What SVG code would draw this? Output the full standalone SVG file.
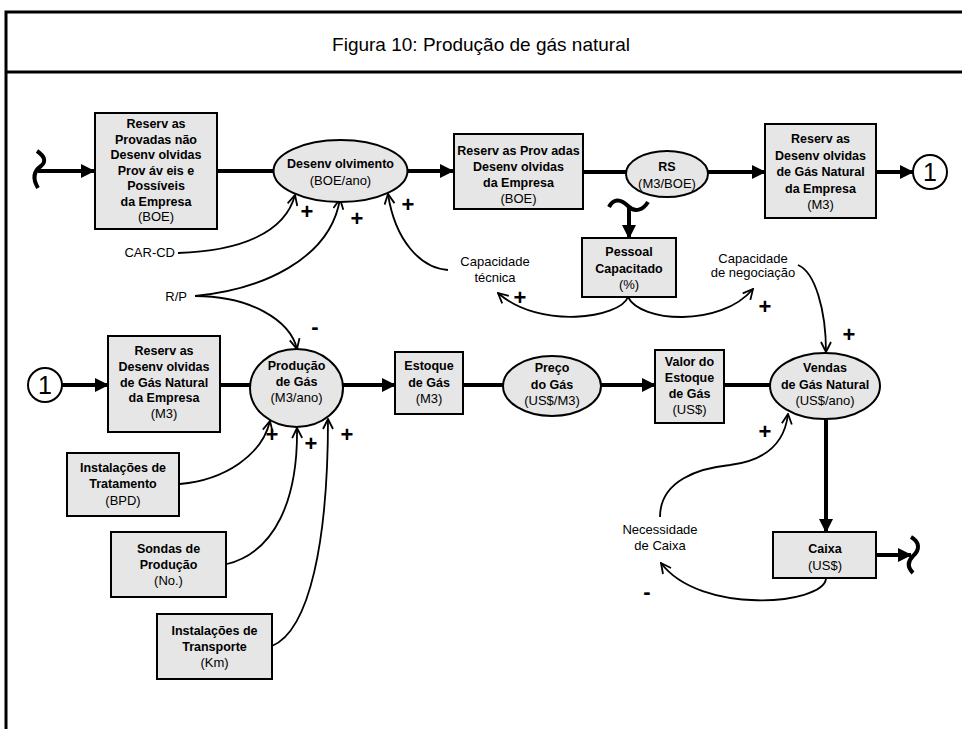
<svg xmlns="http://www.w3.org/2000/svg" width="962" height="729" viewBox="0 0 962 729">
  <style>
    .frame { stroke: #000; stroke-width: 3; fill: none; }
    .box { fill: #e6e6e6; stroke: #000; stroke-width: 2; }
    .node { fill: #e6e6e6; stroke: #000; stroke-width: 2; }
    .ref { fill: #fff; stroke: #000; stroke-width: 2; }
    .b { font-family: "Liberation Sans", Arial, sans-serif; font-weight: bold; font-size: 12.5px; text-anchor: middle; fill: #000; }
    .r { font-family: "Liberation Sans", Arial, sans-serif; font-size: 13px; text-anchor: middle; fill: #000; }
    .lbl { font-family: "Liberation Sans", Arial, sans-serif; font-size: 13px; fill: #000; }
    .sign { font-family: "Liberation Sans", Arial, sans-serif; font-weight: bold; font-size: 22px; text-anchor: middle; fill: #000; }
    .flow { stroke: #000; stroke-width: 4; fill: none; }
    .link { stroke: #000; stroke-width: 1.8; fill: none; }
    .title { font-family: "Liberation Sans", Arial, sans-serif; font-size: 19px; text-anchor: middle; fill: #000; }
  </style>
  <defs>
    <marker id="flowhead" markerUnits="userSpaceOnUse" viewBox="0 0 14 14" refX="13" refY="7" markerWidth="14" markerHeight="14" orient="auto">
      <path d="M0,0 L14,7 L0,14 z" fill="#000"/>
    </marker>
    <marker id="linkhead" markerUnits="userSpaceOnUse" viewBox="0 0 12 12" refX="11" refY="6" markerWidth="12" markerHeight="12" orient="auto">
      <path d="M1,1 L11,6 L1,11" fill="none" stroke="#000" stroke-width="1.8"/>
    </marker>
  </defs>

  <rect width="962" height="729" fill="#fff"/>

  <!-- page frame and caption band -->
  <g id="frame">
    <path class="frame" d="M6,729 L6,12 L962,12 M6,72 L962,72"/>
    <text class="title" x="481" y="51">Figura 10: Produção de gás natural</text>
  </g>

  <!-- connectors -->
  <g id="connectors">
    <!-- flows, top row -->
    <path class="flow" d="M37,151 C44,156 47,161 41,166 C34,171 32,178 38,188" stroke-width="3.5"/>
    <path class="flow" d="M38,171 L94,171" marker-end="url(#flowhead)"/>
    <path class="flow" d="M217,171 L274,171"/>
    <path class="flow" d="M407,171 L453,171" marker-end="url(#flowhead)"/>
    <path class="flow" d="M583,172 L626,172"/>
    <path class="flow" d="M708,172 L765,172" marker-end="url(#flowhead)"/>
    <path class="flow" d="M876,172 L913,172" marker-end="url(#flowhead)"/>
    <path class="flow" d="M609,207 C613,199 620,198 628,206 C635,213 643,210 648,202" stroke-width="3.5"/>
    <path class="flow" d="M629,207 L629,238" marker-end="url(#flowhead)"/>

    <!-- flows, second row -->
    <path class="flow" d="M62,385 L108,385" marker-end="url(#flowhead)"/>
    <path class="flow" d="M220,385 L250,385"/>
    <path class="flow" d="M343,385 L395,385" marker-end="url(#flowhead)"/>
    <path class="flow" d="M463,385 L503,385"/>
    <path class="flow" d="M600,385 L655,385" marker-end="url(#flowhead)"/>
    <path class="flow" d="M724,385 L770,385"/>
    <path class="flow" d="M826,420 L826,532" marker-end="url(#flowhead)"/>
    <path class="flow" d="M876,555 L911,555" marker-end="url(#flowhead)"/>
    <path class="flow" d="M911,537 C920,542 920,550 913,556 C907,562 908,568 913,573" stroke-width="3.5"/>

    <!-- influences on Desenvolvimento -->
    <path class="link" d="M178,253 C240,251 285,233 295,195" marker-end="url(#linkhead)"/>
    <path class="link" d="M195,296 C260,290 330,260 340,199" marker-end="url(#linkhead)"/>
    <path class="link" d="M448,270 C420,268 395,240 388,194" marker-end="url(#linkhead)"/>

    <!-- influences on Produção de Gás -->
    <path class="link" d="M195,296 C250,296 290,320 297,349" marker-end="url(#linkhead)"/>
    <path class="link" d="M180,484 C225,480 262,455 270,421" marker-end="url(#linkhead)"/>
    <path class="link" d="M227,564 C275,552 298,500 297,428" marker-end="url(#linkhead)"/>
    <path class="link" d="M272,646 C310,630 328,540 328,419" marker-end="url(#linkhead)"/>

    <!-- Pessoal Capacitado outputs -->
    <path class="link" d="M628,297 C620,318 540,330 498,293" marker-end="url(#linkhead)"/>
    <path class="link" d="M628,297 C640,322 720,328 753,289" marker-end="url(#linkhead)"/>

    <!-- influences on Vendas and Caixa loop -->
    <path class="link" d="M798,265 C815,272 826,310 826,352" marker-end="url(#linkhead)"/>
    <path class="link" d="M660,517 C660,480 700,468 730,465 C770,460 785,440 788,414" marker-end="url(#linkhead)"/>
    <path class="link" d="M826,579 C822,605 700,615 661,563" marker-end="url(#linkhead)"/>

    <!-- polarity signs -->
    <text class="sign" x="307" y="219">+</text>
    <text class="sign" x="357" y="226">+</text>
    <text class="sign" x="408" y="212">+</text>
    <text class="sign" x="520" y="305">+</text>
    <text class="sign" x="765" y="314">+</text>
    <text class="sign" x="849" y="342">+</text>
    <text class="sign" x="765" y="439">+</text>
    <text class="sign" x="272" y="442">+</text>
    <text class="sign" x="311" y="451">+</text>
    <text class="sign" x="347" y="442">+</text>
    <text class="sign" x="315" y="334">-</text>
    <text class="sign" x="647" y="599">-</text>

    <!-- auxiliary variable labels -->
    <text class="lbl" x="175" y="257" text-anchor="end">CAR-CD</text>
    <text class="lbl" x="187" y="301" text-anchor="end">R/P</text>
    <text class="r" x="495" y="266">Capacidade</text>
    <text class="r" x="495" y="282">técnica</text>
    <text class="r" x="753" y="263">Capacidade</text>
    <text class="r" x="753" y="277">de negociação</text>
    <text class="r" x="660" y="534">Necessidade</text>
    <text class="r" x="660" y="550">de Caixa</text>
  </g>

  <!-- stocks and rates -->
  <g id="reservas-provadas-nao-desenvolvidas">
    <rect class="box" x="95" y="113" width="122" height="116"/>
    <text class="b" x="156" y="128">Reserv as</text>
    <text class="b" x="156" y="143.5">Provadas não</text>
    <text class="b" x="156" y="159">Desenv olvidas</text>
    <text class="b" x="156" y="174.5">Prov áv eis e</text>
    <text class="b" x="156" y="190">Possíveis</text>
    <text class="b" x="156" y="205.5">da Empresa</text>
    <text class="r" x="156" y="221">(BOE)</text>
  </g>

  <g id="desenvolvimento">
    <ellipse class="node" cx="340.5" cy="171" rx="67" ry="31"/>
    <text class="b" x="340.5" y="168">Desenv olvimento</text>
    <text class="r" x="340.5" y="185">(BOE/ano)</text>
  </g>

  <g id="reservas-provadas-desenvolvidas">
    <rect class="box" x="454" y="134" width="129" height="75"/>
    <text class="b" x="518.5" y="155">Reserv as Prov adas</text>
    <text class="b" x="518.5" y="171">Desenv olvidas</text>
    <text class="b" x="518.5" y="187">da Empresa</text>
    <text class="r" x="518.5" y="203">(BOE)</text>
  </g>

  <g id="rs">
    <ellipse class="node" cx="667" cy="174" rx="41" ry="23"/>
    <text class="b" x="667" y="171">RS</text>
    <text class="r" x="667" y="188">(M3/BOE)</text>
  </g>

  <g id="reservas-desenvolvidas-topo">
    <rect class="box" x="765" y="124" width="111" height="94"/>
    <text class="b" x="820.5" y="143">Reserv as</text>
    <text class="b" x="820.5" y="159.5">Desenv olvidas</text>
    <text class="b" x="820.5" y="176">de Gás Natural</text>
    <text class="b" x="820.5" y="192.5">da Empresa</text>
    <text class="r" x="820.5" y="209">(M3)</text>
  </g>

  <g id="conector-1-saida">
    <circle class="ref" cx="930" cy="172" r="17"/>
    <text x="930" y="181" font-family="Liberation Sans, Arial, sans-serif" font-size="25" text-anchor="middle">1</text>
  </g>

  <g id="pessoal-capacitado">
    <rect class="box" x="582" y="238" width="94" height="59"/>
    <text class="b" x="629" y="256">Pessoal</text>
    <text class="b" x="629" y="273">Capacitado</text>
    <text class="r" x="629" y="289">(%)</text>
  </g>

  <g id="conector-1-entrada">
    <circle class="ref" cx="45" cy="385" r="17"/>
    <text x="45" y="394" font-family="Liberation Sans, Arial, sans-serif" font-size="25" text-anchor="middle">1</text>
  </g>

  <g id="reservas-desenvolvidas">
    <rect class="box" x="108" y="336" width="112" height="96"/>
    <text class="b" x="164" y="355">Reserv as</text>
    <text class="b" x="164" y="371">Desenv olvidas</text>
    <text class="b" x="164" y="387">de Gás Natural</text>
    <text class="b" x="164" y="402">da Empresa</text>
    <text class="r" x="164" y="418">(M3)</text>
  </g>

  <g id="producao-de-gas">
    <ellipse class="node" cx="296.5" cy="388" rx="46.5" ry="39"/>
    <text class="b" x="296.5" y="370">Produção</text>
    <text class="b" x="296.5" y="386">de Gás</text>
    <text class="r" x="296.5" y="402">(M3/ano)</text>
  </g>

  <g id="estoque-de-gas">
    <rect class="box" x="395" y="352" width="68" height="62"/>
    <text class="b" x="429" y="370">Estoque</text>
    <text class="b" x="429" y="387">de Gás</text>
    <text class="r" x="429" y="403">(M3)</text>
  </g>

  <g id="preco-do-gas">
    <ellipse class="node" cx="552" cy="386" rx="49" ry="30"/>
    <text class="b" x="552" y="372">Preço</text>
    <text class="b" x="552" y="389">do Gás</text>
    <text class="r" x="552" y="405">(US$/M3)</text>
  </g>

  <g id="valor-do-estoque">
    <rect class="box" x="655" y="350" width="69" height="73"/>
    <text class="b" x="689.5" y="366">Valor do</text>
    <text class="b" x="689.5" y="382">Estoque</text>
    <text class="b" x="689.5" y="398">de Gás</text>
    <text class="r" x="689.5" y="414">(US$)</text>
  </g>

  <g id="vendas-de-gas-natural">
    <ellipse class="node" cx="825" cy="386" rx="55" ry="33"/>
    <text class="b" x="825" y="372">Vendas</text>
    <text class="b" x="825" y="389">de Gás Natural</text>
    <text class="r" x="825" y="405">(US$/ano)</text>
  </g>

  <g id="caixa">
    <rect class="box" x="773" y="532" width="103" height="46"/>
    <text class="b" x="825" y="553">Caixa</text>
    <text class="r" x="825" y="570">(US$)</text>
  </g>

  <g id="instalacoes-de-tratamento">
    <rect class="box" x="67" y="453" width="112" height="63"/>
    <text class="b" x="123" y="472">Instalações de</text>
    <text class="b" x="123" y="488">Tratamento</text>
    <text class="r" x="123" y="505">(BPD)</text>
  </g>

  <g id="sondas-de-producao">
    <rect class="box" x="111" y="532" width="115" height="65"/>
    <text class="b" x="168.5" y="553">Sondas de</text>
    <text class="b" x="168.5" y="569">Produção</text>
    <text class="r" x="168.5" y="585">(No.)</text>
  </g>

  <g id="instalacoes-de-transporte">
    <rect class="box" x="157" y="614" width="115" height="65"/>
    <text class="b" x="214.5" y="635">Instalações de</text>
    <text class="b" x="214.5" y="651">Transporte</text>
    <text class="r" x="214.5" y="667">(Km)</text>
  </g>
</svg>
